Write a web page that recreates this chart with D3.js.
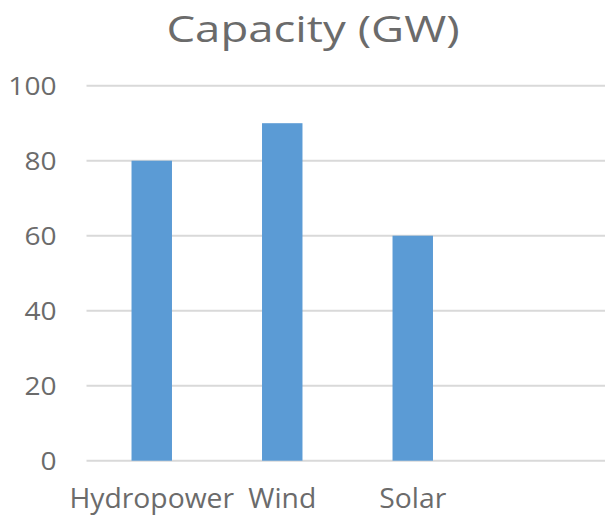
<!DOCTYPE html>
<html>
<head>
<meta charset="utf-8">
<script src="https://cdn.jsdelivr.net/npm/d3@7"></script>
<style>
  body { margin: 0; background: #fff; }
  text { font-family: "Open Sans", sans-serif; fill: #6b6b6b; }
</style>
</head>
<body>
<div id="chart"></div>
<script>
var categories = ["Hydropower", "Wind", "Solar"];
var capacity = [80, 90, 60];
var yTicks = [0, 20, 40, 60, 80, 100];
var chartTitle = "Capacity (GW)";

var width = 605, height = 515;

var svg = d3.select("#chart")
    .append("svg")
    .attr("width", width)
    .attr("height", height);

// the fourth slot is empty in the original, chart runs past the right edge
var xScale = d3.scaleBand()
    .domain(categories.concat(["_empty"]))
    .range([86.5, 608.5])
    .paddingInner(0.69)
    .paddingOuter(0.345);

var yScale = d3.scaleLinear()
    .domain([0, 100])
    .range([460.7, 85.7]);

// some of the source text is wider than Open Sans, so stretch it sideways
function stretched(x, y, sx) {
    return "translate(" + [x, y] + ") scale(" + sx + ",1)";
}

// gridlines
svg.append("g")
    .selectAll("line")
    .data(yTicks)
    .enter()
    .append("line")
    .attr("x1", xScale.range()[0])
    .attr("x2", width)
    .attr("y1", d => yScale(d))
    .attr("y2", d => yScale(d))
    .style("stroke", "#d9d9d9")
    .attr("stroke-width", 2);

// y labels
svg.append("g")
    .selectAll("text")
    .data(yTicks)
    .enter()
    .append("text")
    .attr("transform", d => stretched(56.5, yScale(d) + 9.3, 1.08))
    .attr("text-anchor", "end")
    .style("font-size", "26px")
    .text(d => d);

// bars
svg.append("g")
    .selectAll("rect")
    .data(categories)
    .enter()
    .append("rect")
    .attr("x", d => xScale(d))
    .attr("width", xScale.bandwidth())
    .attr("y", (d, i) => yScale(capacity[i]))
    .attr("height", (d, i) => yScale(0) - yScale(capacity[i]))
    .style("fill", "#5b9bd5");

// x labels
svg.append("g")
    .selectAll("text")
    .data(categories)
    .enter()
    .append("text")
    .attr("transform", d => stretched(xScale(d) + xScale.bandwidth() / 2, 508, 1.01))
    .attr("text-anchor", "middle")
    .style("font-size", "28px")
    .text(d => d);

svg.append("text")
    .attr("transform", stretched(313, 41.5, 1.23))
    .attr("text-anchor", "middle")
    .style("font-size", "37px")
    .text(chartTitle);
</script>
</body>
</html>
